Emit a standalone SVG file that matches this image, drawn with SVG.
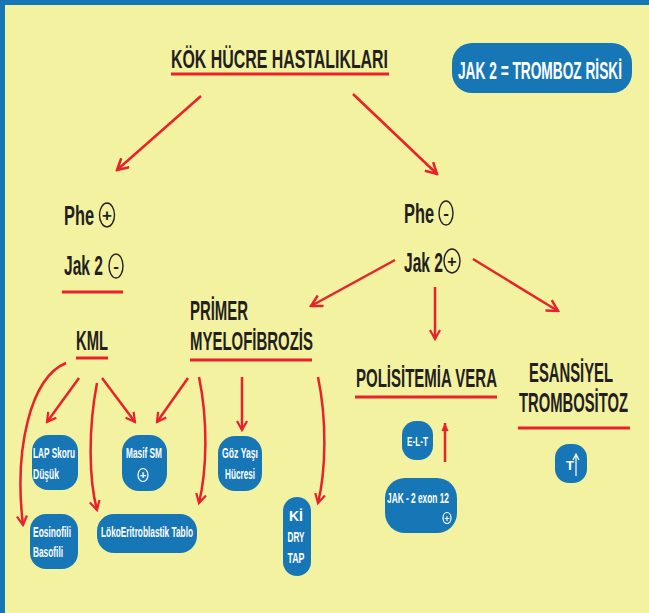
<svg xmlns="http://www.w3.org/2000/svg" width="649" height="613" viewBox="0 0 649 613">
<style>
.t{font-family:"Liberation Sans Narrow","Liberation Sans",Arial,sans-serif;font-weight:700;fill:#231F20}
.w{font-family:"Liberation Sans Narrow","Liberation Sans",Arial,sans-serif;font-weight:700;fill:#FFFFFF}
.box{fill:#1777B6}
.ln{stroke:#E8212A;stroke-width:2.5;fill:none}
.ul{stroke:#E8212A;stroke-width:3}
.oc{fill:none;stroke:#231F20;stroke-width:1.4}
.ow{fill:none;stroke:#FFFFFF;stroke-width:1.2}
</style>
<defs>
<marker id="ah" viewBox="0 0 14 14" refX="12" refY="7" markerWidth="14" markerHeight="14" markerUnits="userSpaceOnUse" orient="auto">
<path d="M1,1 L12,7 L1,13" fill="none" stroke="#E8212A" stroke-width="2.5"/>
</marker>
<marker id="ahs" viewBox="0 0 12 12" refX="10" refY="6" markerWidth="12" markerHeight="12" markerUnits="userSpaceOnUse" orient="auto">
<path d="M1,1 L10,6 L1,11" fill="none" stroke="#E8212A" stroke-width="2.2"/>
</marker>
<marker id="af" viewBox="0 0 10 10" refX="9" refY="5" markerWidth="9" markerHeight="9" markerUnits="userSpaceOnUse" orient="auto">
<path d="M0,1 L9,5 L0,9 Z" fill="#E8212A"/>
</marker>
</defs>
<rect x="0" y="0" width="649" height="613" fill="#F3F2A0"/>
<rect x="0" y="0" width="5" height="613" fill="#1777B6"/>
<rect x="0" y="0" width="649" height="5" fill="#1777B6"/>

<g id="title">
<text class="t" transform="translate(171,68) scale(1,1.45)" font-size="18" textLength="217" lengthAdjust="spacingAndGlyphs">KÖK HÜCRE HASTALIKLARI</text>
<line class="ul" x1="171" y1="74" x2="389" y2="74"/>
</g>

<g id="jak2risk">
<rect class="box" x="452" y="43" width="180" height="50" rx="20"/>
<text class="w" transform="translate(458,79) scale(1,1.6)" font-size="15.5" textLength="164" lengthAdjust="spacingAndGlyphs">JAK 2 = TROMBOZ RİSKİ</text>
</g>

<g id="phe-plus">
<text class="t" transform="translate(64,225) scale(1,1.45)" font-size="19.5" textLength="30" lengthAdjust="spacingAndGlyphs">Phe</text>
<ellipse class="oc" cx="107" cy="215" rx="7.5" ry="12"/>
<text class="t" x="107" y="221" font-size="17" text-anchor="middle">+</text>
<text class="t" transform="translate(64,275) scale(1,1.5)" font-size="18.5" textLength="39" lengthAdjust="spacingAndGlyphs">Jak 2</text>
<ellipse class="oc" cx="116" cy="266" rx="7" ry="12"/>
<text class="t" x="116" y="272" font-size="17" text-anchor="middle">-</text>
<line class="ul" x1="62" y1="292" x2="123" y2="292"/>
</g>

<g id="kml">
<text class="t" transform="translate(76,350) scale(1,1.55)" font-size="17.5" textLength="32" lengthAdjust="spacingAndGlyphs">KML</text>
<line class="ul" x1="76" y1="358" x2="108" y2="358"/>
</g>

<g id="primer">
<text class="t" transform="translate(190,320) scale(1,1.5)" font-size="18" textLength="58" lengthAdjust="spacingAndGlyphs">PRİMER</text>
<text class="t" transform="translate(190,350) scale(1,1.5)" font-size="17.5" textLength="123" lengthAdjust="spacingAndGlyphs">MYELOFİBROZİS</text>
<line class="ul" x1="190" y1="360" x2="312" y2="360"/>
</g>

<g id="phe-minus">
<text class="t" transform="translate(404,223) scale(1,1.45)" font-size="19.5" textLength="30" lengthAdjust="spacingAndGlyphs">Phe</text>
<ellipse class="oc" cx="446" cy="213" rx="7" ry="12"/>
<text class="t" x="446" y="219" font-size="17" text-anchor="middle">-</text>
<text class="t" transform="translate(404,272) scale(1,1.65)" font-size="16.8" textLength="39" lengthAdjust="spacingAndGlyphs">Jak 2</text>
<ellipse class="oc" cx="452" cy="261" rx="8" ry="12"/>
<text class="t" x="452" y="267" font-size="16" text-anchor="middle">+</text>
</g>

<g id="pv">
<text class="t" transform="translate(356,387) scale(1,1.6)" font-size="16.5" textLength="141" lengthAdjust="spacingAndGlyphs">POLİSİTEMİA VERA</text>
<line class="ul" x1="355" y1="397" x2="497" y2="397"/>
</g>

<g id="et">
<text class="t" transform="translate(529,382) scale(1,1.5)" font-size="18" textLength="84" lengthAdjust="spacingAndGlyphs">ESANSİYEL</text>
<text class="t" transform="translate(519,412) scale(1,1.6)" font-size="17" textLength="109" lengthAdjust="spacingAndGlyphs">TROMBOSİTOZ</text>
<line class="ul" x1="518" y1="428" x2="630" y2="428"/>
</g>

<g id="lap">
<rect class="box" x="32" y="435" width="46" height="55" rx="16"/>
<text class="w" x="33" y="458" font-size="14" textLength="42" lengthAdjust="spacingAndGlyphs">LAP Skoru</text>
<text class="w" x="33" y="479" font-size="14" textLength="26" lengthAdjust="spacingAndGlyphs">Düşük</text>
</g>

<g id="masif">
<rect class="box" x="122" y="435" width="45" height="56" rx="17"/>
<text class="w" x="126" y="458" font-size="14" textLength="36" lengthAdjust="spacingAndGlyphs">Masif SM</text>
<ellipse class="ow" cx="143" cy="475" rx="5" ry="6.5"/>
<text class="w" x="143" y="479" font-size="11" text-anchor="middle">+</text>
</g>

<g id="goz">
<rect class="box" x="218" y="436" width="44" height="55" rx="17"/>
<text class="w" x="222" y="458" font-size="14" textLength="36" lengthAdjust="spacingAndGlyphs">Göz Yaşı</text>
<text class="w" x="225" y="479" font-size="14" textLength="30" lengthAdjust="spacingAndGlyphs">Hücresi</text>
</g>

<g id="eos">
<rect class="box" x="30" y="514" width="48" height="55" rx="16"/>
<text class="w" x="33" y="537" font-size="14" textLength="38" lengthAdjust="spacingAndGlyphs">Eosinofili</text>
<text class="w" x="33" y="557" font-size="14" textLength="30" lengthAdjust="spacingAndGlyphs">Basofili</text>
</g>

<g id="loko">
<rect class="box" x="97" y="514" width="100" height="39" rx="17"/>
<text class="w" x="101" y="537" font-size="14" textLength="92" lengthAdjust="spacingAndGlyphs">LökoEritroblastik Tablo</text>
</g>

<g id="kidry">
<rect class="box" x="283" y="497" width="28" height="79" rx="14"/>
<text class="w" x="296" y="521" font-size="14" text-anchor="middle">Kİ</text>
<text class="w" x="296" y="542" font-size="14" text-anchor="middle" textLength="17" lengthAdjust="spacingAndGlyphs">DRY</text>
<text class="w" x="296" y="563" font-size="14" text-anchor="middle" textLength="17" lengthAdjust="spacingAndGlyphs">TAP</text>
</g>

<g id="elt">
<rect class="box" x="402" y="421" width="31" height="39" rx="14"/>
<text class="w" x="407" y="446" font-size="13" textLength="21" lengthAdjust="spacingAndGlyphs">E-L-T</text>
</g>

<g id="jakexon">
<rect class="box" x="385" y="478" width="72" height="55" rx="20"/>
<text class="w" x="387" y="503" font-size="14" textLength="62" lengthAdjust="spacingAndGlyphs">JAK - 2 exon 12</text>
<ellipse class="ow" cx="447" cy="518" rx="4" ry="5.5"/>
<text class="w" x="447" y="522" font-size="9" text-anchor="middle">+</text>
</g>

<g id="tup">
<rect class="box" x="555" y="444" width="32" height="39" rx="14"/>
<text class="w" x="566" y="470" font-size="13">T</text>
<path d="M576,476 L576,455 M573,460 L576,454 L579,460" fill="none" stroke="#FFFFFF" stroke-width="1.2"/>
</g>

<g id="connectors">
<path class="ln" d="M201,96 L117,170" marker-end="url(#ah)"/>
<path class="ln" d="M353,94 L437,174" marker-end="url(#ah)"/>
<path class="ln" d="M395,260 L311,306" marker-end="url(#ah)"/>
<path class="ln" d="M435,287 L435,339" marker-end="url(#ahs)"/>
<path class="ln" d="M473,259 L558,311" marker-end="url(#ah)"/>
<path class="ln" d="M66,363 C30,378 14,450 23,525" marker-end="url(#ahs)"/>
<path class="ln" d="M79,378 L47,422" marker-end="url(#ahs)"/>
<path class="ln" d="M97,383 C88,430 89,480 97,510" marker-end="url(#ahs)"/>
<path class="ln" d="M102,378 L135,422" marker-end="url(#ahs)"/>
<path class="ln" d="M188,378 L157,422" marker-end="url(#ahs)"/>
<path class="ln" d="M199,377 C208,420 207,470 199,503" marker-end="url(#ahs)"/>
<path class="ln" d="M242,377 L242,430" marker-end="url(#ahs)"/>
<path class="ln" d="M318,377 C327,420 326,470 318,503" marker-end="url(#ahs)"/>
<path class="ln" d="M445,462 L445,423" marker-end="url(#af)"/>
</g>
</svg>
